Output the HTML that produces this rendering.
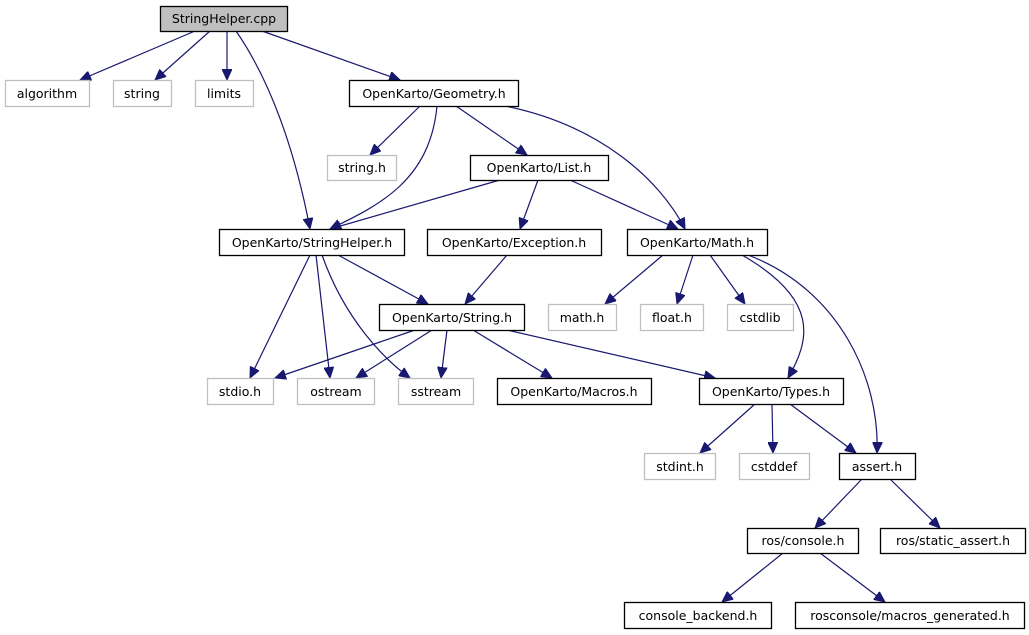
<!DOCTYPE html>
<html><head><meta charset="utf-8"><style>
html,body{margin:0;padding:0;background:#fff;width:1029px;height:635px;overflow:hidden}
text{font-family:"DejaVu Sans","Liberation Sans",sans-serif;font-size:12.5px;fill:#000;text-anchor:middle}
.b{fill:#fff;stroke:#000;stroke-width:1.3}
.g{fill:#fff;stroke:#bfbfbf;stroke-width:1.3}
.e{fill:none;stroke:#191970;stroke-width:1.2}
</style></head><body>
<svg width="1029" height="635" viewBox="0 0 1029 635" xmlns="http://www.w3.org/2000/svg">
<defs><marker id="a" markerWidth="12" markerHeight="10" refX="11" refY="5" orient="auto" markerUnits="userSpaceOnUse"><path d="M0,0 L11,5 L0,10 z" fill="#191970" stroke="#191970"/></marker></defs>
<g class="e" marker-end="url(#a)">
<path d="M195,31 L80,80"/>
<path d="M210,31 L155,80"/>
<path d="M227,31 L227,80"/>
<path d="M236,31 C270,80 295,150 310,229"/>
<path d="M262,31 L400,80"/>
<path d="M420,106 L370,155"/>
<path d="M437,106 C430,180 380,205 330,229"/>
<path d="M456,106 L527,155"/>
<path d="M505,106 C600,125 660,180 685,229"/>
<path d="M500,180 L330,229"/>
<path d="M538,180 L520,229"/>
<path d="M570,180 L678,229"/>
<path d="M310,255 L250,378"/>
<path d="M316,255 L330,378"/>
<path d="M322,255 C345,320 385,360 410,378"/>
<path d="M338,255 L428,304"/>
<path d="M507,255 L465,304"/>
<path d="M663,255 L605,304"/>
<path d="M693,255 L677,304"/>
<path d="M710,255 L745,304"/>
<path d="M742,255 C820,300 810,340 788,378"/>
<path d="M748,255 C840,290 880,380 877,453"/>
<path d="M415,330 L275,378"/>
<path d="M432,330 L356,378"/>
<path d="M447,330 L441,378"/>
<path d="M473,330 L552,378"/>
<path d="M507,330 L715,378"/>
<path d="M755,404 L700,453"/>
<path d="M772,404 L773,453"/>
<path d="M790,404 L856,453"/>
<path d="M862,479 L815,528"/>
<path d="M890,479 L940,528"/>
<path d="M783,553 L722,602"/>
<path d="M820,553 L885,602"/>
</g>
<rect x="160.5" y="6.5" width="127" height="25" fill="#bfbfbf" stroke="#000" stroke-width="1.3"/><text x="224" y="23">StringHelper.cpp</text>
<rect class="g" x="5.5" y="80.5" width="84" height="26"/><text x="47" y="98">algorithm</text>
<rect class="g" x="113.5" y="80.5" width="58" height="26"/><text x="142" y="98">string</text>
<rect class="g" x="195.5" y="80.5" width="58" height="26"/><text x="224" y="98">limits</text>
<rect class="b" x="349.5" y="80.5" width="169" height="26"/><text x="434" y="98">OpenKarto/Geometry.h</text>
<rect class="g" x="327.5" y="155.5" width="69" height="25"/><text x="362" y="172">string.h</text>
<rect class="b" x="470.5" y="155.5" width="138" height="25"/><text x="539" y="172">OpenKarto/List.h</text>
<rect class="b" x="219.5" y="229.5" width="185" height="26"/><text x="312" y="247">OpenKarto/StringHelper.h</text>
<rect class="b" x="427.5" y="229.5" width="174" height="26"/><text x="514" y="247">OpenKarto/Exception.h</text>
<rect class="b" x="627.5" y="229.5" width="140" height="26"/><text x="697" y="247">OpenKarto/Math.h</text>
<rect class="b" x="379.5" y="304.5" width="145" height="26"/><text x="452" y="322">OpenKarto/String.h</text>
<rect class="g" x="548.5" y="304.5" width="68" height="26"/><text x="582" y="322">math.h</text>
<rect class="g" x="640.5" y="304.5" width="63" height="26"/><text x="672" y="322">float.h</text>
<rect class="g" x="727.5" y="304.5" width="66" height="26"/><text x="760" y="322">cstdlib</text>
<rect class="g" x="207.5" y="378.5" width="66" height="26"/><text x="240" y="396">stdio.h</text>
<rect class="g" x="297.5" y="378.5" width="77" height="26"/><text x="336" y="396">ostream</text>
<rect class="g" x="398.5" y="378.5" width="75" height="26"/><text x="436" y="396">sstream</text>
<rect class="b" x="497.5" y="378.5" width="154" height="26"/><text x="574" y="396">OpenKarto/Macros.h</text>
<rect class="b" x="699.5" y="378.5" width="144" height="26"/><text x="771" y="396">OpenKarto/Types.h</text>
<rect class="g" x="644.5" y="453.5" width="71" height="26"/><text x="680" y="471">stdint.h</text>
<rect class="g" x="739.5" y="453.5" width="70" height="26"/><text x="774" y="471">cstddef</text>
<rect class="b" x="839.5" y="453.5" width="76" height="26"/><text x="877" y="471">assert.h</text>
<rect class="b" x="747.5" y="528.5" width="111" height="25"/><text x="803" y="545">ros/console.h</text>
<rect class="b" x="880.5" y="528.5" width="145" height="25"/><text x="953" y="545">ros/static_assert.h</text>
<rect class="b" x="624.5" y="602.5" width="147" height="26"/><text x="698" y="620">console_backend.h</text>
<rect class="b" x="795.5" y="602.5" width="229" height="26"/><text x="910" y="620">rosconsole/macros_generated.h</text>
</svg>
</body></html>
